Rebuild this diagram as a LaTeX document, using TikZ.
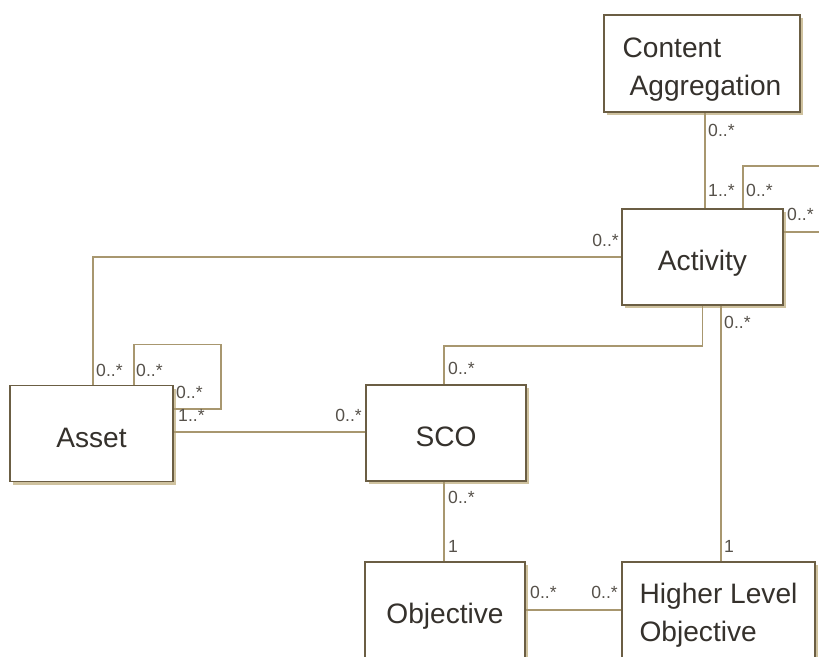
\documentclass[tikz,border=0pt]{standalone}
\usepackage{fontspec}
\setmainfont{Liberation Sans}
\usetikzlibrary{calc,shadows}
\definecolor{boxline}{HTML}{6B5E44}
\definecolor{assocline}{HTML}{A8976F}
\definecolor{shade}{HTML}{CFC29F}
\definecolor{ink}{HTML}{35312C}
\definecolor{multink}{HTML}{56514A}
\tikzset{
  classbox/.style={draw=boxline,line width=1.5pt,fill=white,text=ink,
    minimum width=160*0.03cm,minimum height=96*0.03cm,
    font=\fontsize{24}{32}\selectfont,inner sep=0pt,
    drop shadow={shadow xshift=0.09cm,shadow yshift=-0.09cm,fill=shade,opacity=1}},
  oneline/.style={text height=23.5pt,text depth=0pt},
  twoline/.style={align=left},
  assoc/.style={draw=assocline,line width=1.4pt},
  mult/.style={text=multink,font=\fontsize{15}{17}\selectfont,inner sep=0pt}
}
\begin{document}
\begin{tikzpicture}[x=0.03cm,y=-0.03cm]
  \useasboundingbox[fill=white] (0,0) rectangle (819,657);
  \clip (0,0) rectangle (819,657);

  % classes
  \node[classbox,twoline,minimum width=196*0.03cm,minimum height=97*0.03cm] (ca) at (702,63.5)
    {\rule{0pt}{27.5pt}Content\\\hspace*{0.25em}Aggregation};
  \node[classbox,oneline,minimum width=161*0.03cm] (act) at (702.5,257) {Activity};
  \node[classbox,oneline,minimum width=163*0.03cm] (asset) at (91.5,433.5) {Asset};
  \node[classbox,oneline] (sco) at (446,433) {SCO};
  \node[classbox,oneline] (obj) at (445,610) {Objective};
  \node[classbox,twoline,minimum width=193*0.03cm] (hlo) at (718.5,610)
    {\rule{0pt}{26pt}Higher Level\\Objective};

  % associations
  \coordinate (acthlo) at ($(act.south)+(18.5,0)$);
  \draw[assoc] ($(ca.south)+(3,0)$) -- ($(act.north)+(2.5,0)$);
  \draw[assoc] ($(act.north east)+(-41,0)$) |- ($(act.north east)+(39,-42)$) |- ($(act.east)+(0,-25)$);
  \draw[assoc] (act.west) -| ($(asset.north)+(1.5,0)$);
  \draw[assoc] ($(asset.north east)+(-40,0)$) |- ($(asset.north east)+(47,-40)$) |- ($(asset.east)+(0,-24.5)$);
  \draw[assoc] ($(asset.east)+(0,-1.5)$) -- ($(sco.west)+(0,-1)$);
  \draw[assoc] (act.south) -- ++(0,40) -| ($(sco.north)+(-2,0)$);
  \draw[assoc] (acthlo) -- (acthlo |- hlo.north);
  \draw[assoc] ($(sco.south)+(-2,0)$) -- ($(obj.north)+(-1,0)$);
  \draw[assoc] (obj.east) -- (hlo.west);

  % multiplicities
  \node[mult,anchor=west] (caAct) at (708,130) {0..*};
  \node[mult,anchor=west] (actCa) at (708,190) {1..*};
  \node[mult,anchor=west] (actLoopA) at (746,190) {0..*};
  \node[mult,anchor=west] (actLoopB) at (787,214) {0..*};
  \node[mult,anchor=east] (actAsset) at (619,240) {0..*};
  \node[mult,anchor=west] (assetAct) at (96,370) {0..*};
  \node[mult,anchor=west] (assetLoopA) at (136,370) {0..*};
  \node[mult,anchor=west] (assetLoopB) at (176,392) {0..*};
  \node[mult,anchor=west] (assetSco) at (178,415) {1..*};
  \node[mult,anchor=east] (scoAsset) at (362,415) {0..*};
  \node[mult,anchor=west] (scoAct) at (448,368) {0..*};
  \node[mult,anchor=west] (actHlo) at (724,322) {0..*};
  \node[mult,anchor=west] (hloAct) at (724,546) {1};
  \node[mult,anchor=west] (scoObj) at (448,497) {0..*};
  \node[mult,anchor=west] (objSco) at (448,546) {1};
  \node[mult,anchor=west] (objHlo) at (530,592) {0..*};
  \node[mult,anchor=east] (hloObj) at (618,592) {0..*};
\end{tikzpicture}
\end{document}
